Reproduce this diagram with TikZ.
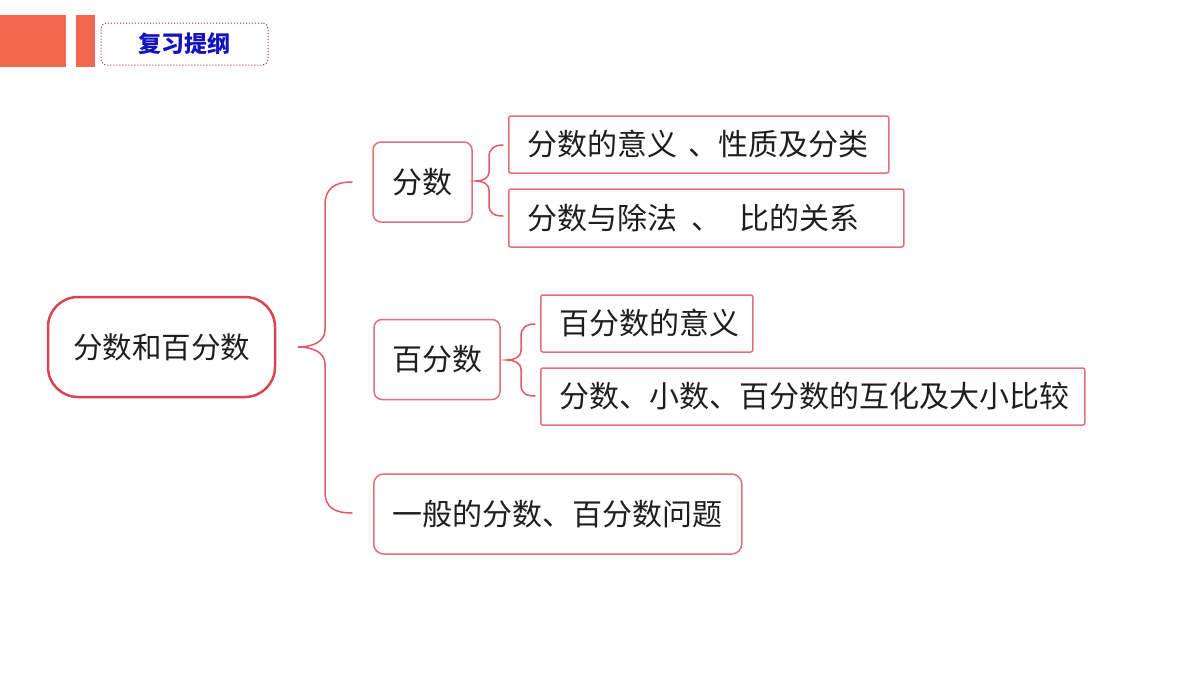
\documentclass[tikz,border=0pt]{standalone}
\usepackage{fontspec}
\newfontfamily\cjk{Noto Sans CJK SC}
\definecolor{orng}{RGB}{242,103,79}
\definecolor{rootred}{RGB}{217,68,82}
\definecolor{boxred}{RGB}{226,112,122}
\definecolor{bracered}{RGB}{222,90,102}
\definecolor{dotred}{RGB}{165,35,70}
\definecolor{titleblue}{RGB}{20,20,190}
\definecolor{txt}{RGB}{30,30,30}
\begin{document}
\begin{tikzpicture}[x=1pt,y=-1pt,
  rootbox/.style={draw=rootred,line width=2.5pt,rounded corners=30pt,minimum width=227pt,minimum height=100pt,inner sep=0pt,font=\cjk\fontsize{29.5}{34}\selectfont,text=txt},
  midbox/.style={draw=boxred,line width=1.5pt,rounded corners=8pt,minimum height=80pt,inner sep=0pt,font=\cjk\fontsize{30}{34}\selectfont,text=txt},
  leafbox/.style={draw=boxred,line width=1.5pt,rounded corners=2pt,inner xsep=19pt,inner ysep=0pt,align=left,anchor=west,font=\cjk\fontsize{30}{34}\selectfont,text=txt},
  bracel/.style={draw=bracered,line width=1.5pt,line cap=round}
]
\useasboundingbox (0,0) rectangle (1200,675);
% header
\fill[orng] (0,15) rectangle (66,67);
\fill[orng] (76,15) rectangle (95,67);
\node[draw=dotred,dotted,line width=1pt,rounded corners=6pt,minimum width=167pt,minimum height=42pt,inner sep=0pt,font=\cjk\bfseries\fontsize{23}{27}\selectfont,text=titleblue] (title) at (184.5,44) {复习提纲};
% nodes
\node[rootbox] (root) at (161.5,347) {分数和百分数};
\node[midbox,minimum width=99pt] (fs) at (422.5,182) {分数};
\node[midbox,minimum width=126pt] (bfs) at (437,359.5) {百分数};
\node[leafbox,minimum height=57pt,text width=342pt] (l1) at (508,144.5) {\mbox{分数的意义\hspace{11pt}、性质及分类}};
\node[leafbox,minimum height=58pt,text width=357pt] (l2) at (508,218) {\mbox{分数与除法\hspace{14pt}、\hspace{18pt}比的关系}};
\node[leafbox,minimum height=57pt,text width=174pt] (l3) at (540,323.5) {\mbox{百分数的意义}};
\node[leafbox,minimum height=57pt,text width=506pt] (l4) at (540,396.5) {\mbox{分数、小数、百分数的互化及大小比较}};
\node[leafbox,rounded corners=10pt,minimum height=80pt,text width=330pt] (gen) at (373,514) {\mbox{一般的分数、百分数问题}};
% big brace
\coordinate (bt) at (352,182);
\coordinate (bm) at (298,347);
\coordinate (bb) at (352,513);
\draw[bracel] (bt) .. controls (334,182) and (325,189) .. (325,205) -- (325,330)
  .. controls (325,342) and (312,347) .. (bm)
  .. controls (312,347) and (325,352) .. (325,364) -- (325,492)
  .. controls (325,507) and (334,513) .. (bb);
% small brace 1
\coordinate (s1t) at (503,145);
\coordinate (s1m) at (476,181);
\coordinate (s1b) at (503,216);
\draw[bracel] (s1t) .. controls (494,145) and (489,149) .. (489,157) -- (489,172)
  .. controls (489,178) and (483,181) .. (s1m)
  .. controls (483,181) and (489,184) .. (489,190) -- (489,205)
  .. controls (489,213) and (494,216) .. (s1b);
% small brace 2
\coordinate (s2t) at (535,324);
\coordinate (s2m) at (507,360);
\coordinate (s2b) at (535,396);
\draw[bracel] (s2t) .. controls (526,324) and (521,328) .. (521,336) -- (521,351)
  .. controls (521,357) and (514,360) .. (s2m)
  .. controls (514,360) and (521,363) .. (521,369) -- (521,385)
  .. controls (521,393) and (526,396) .. (s2b);
\end{tikzpicture}
\end{document}
